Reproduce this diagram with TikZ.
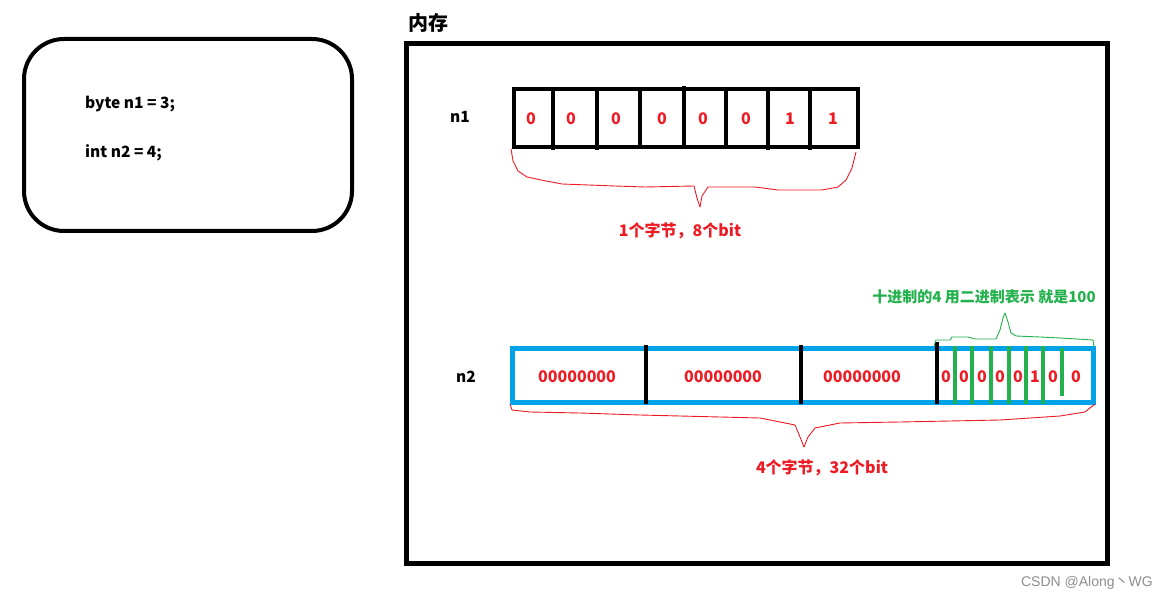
\documentclass[tikz,border=0pt]{standalone}
\usepackage{fontspec}
\setmainfont{Noto Sans CJK SC}
\newfontfamily\marksans{Liberation Sans}
\usepackage{tikz}
\usetikzlibrary{positioning}

\definecolor{bitred}{RGB}{237,28,36}
\definecolor{paintblue}{RGB}{0,162,232}
\definecolor{paintgreen}{RGB}{34,177,76}

\begin{document}
\begin{tikzpicture}[
        x=1pt, y=-1pt,
        codebox/.style={draw=black, line width=4pt, rounded corners=40pt},
        memframe/.style={draw=black, line width=5pt},
        bytebox/.style={draw=black, line width=4pt},
        wordbox/.style={draw=paintblue, line width=5pt},
        divider/.style={line width=4pt},
        greendiv/.style={draw=paintgreen, line width=3.5pt},
        code/.style={font=\fontsize{15.5}{18}\selectfont\bfseries, anchor=west, inner sep=0pt},
        varname/.style={font=\fontsize{15.5}{18}\selectfont\bfseries, inner sep=0pt},
        bit/.style={font=\fontsize{16}{18}\selectfont\bfseries, text=bitred, inner sep=0pt},
        note/.style={font=\fontsize{16}{18}\selectfont\bfseries, inner sep=0pt},
        handbrace/.style={draw=bitred, line width=0.9pt, line join=round},
    ]
        \useasboundingbox (0,0) rectangle (1167,601);

        % Source code
        \draw[codebox] (24,39) rectangle (352,231);
        \node[code] (decl1) at (85,104) {byte n1 = 3;};
        \node[code] (decl2) at (85,153) {int n2 = 4;};

        % Memory
        \node[font=\fontsize{20}{24}\selectfont\bfseries, inner sep=0pt] (memtitle) at (428,23) {内存};
        \draw[memframe] (406,44) rectangle (1107,563);

        % n1 : one byte
        \node[varname] (n1) at (460,117) {n1};
        \draw[bytebox] (514,89) rectangle (858,147);
        \foreach \x/\y/\z in {553/89/150, 597/89/150, 640/89/147, 684/86/147, 726/89/147, 768/89/150, 810/89/150}
            \draw[divider] (\x,\y) -- (\x,\z);
        \foreach \x/\b [count=\i] in {531/0, 571/0, 616/0, 662/0, 703/0, 746/0, 790/1, 833/1}
            \node[bit] (b\i) at (\x,119) {\b};
        \draw[handbrace] (511,149) -- (513,161) -- (518,171) -- (527,177) -- (541,180) -- (562,184)
            -- (615,186) -- (645,187) -- (694,186) -- (697,198) -- (700,207) -- (702,196) -- (708,187)
            -- (755,187) -- (778,190) -- (822,190) -- (838,187) -- (846,180) -- (852,168) -- (856,152);
        \node[note, text=bitred] (size1) at (680,231) {1个字节，8个bit};

        % n2 : four bytes
        \node[varname] (n2) at (466,377) {n2};
        \draw[wordbox] (512,349) rectangle (1093,402);
        \foreach \x/\y in {646/345, 801/345, 937/342}
            \draw[divider] (\x,\y) -- (\x,404);
        \foreach \x in {955, 972, 991, 1009, 1026, 1043}
            \draw[greendiv] (\x,346) -- (\x,404);
        \draw[greendiv] (1062,348) -- (1062,396);
        \node[bit] (byte1) at (577,377) {00000000};
        \node[bit] (byte2) at (723,377) {00000000};
        \node[bit] (byte3) at (862,377) {00000000};
        \foreach \x/\b [count=\i] in {946/0, 964/0, 982/0, 1000/0, 1018/0, 1035/1, 1053/0, 1076/0}
            \node[bit] (c\i) at (\x,377) {\b};
        \draw[handbrace] (510,404) -- (512,410) -- (530,412) -- (580,413) -- (640,415) -- (760,418)
            -- (795,425) -- (800,437) -- (804,447) -- (808,437) -- (815,428) -- (840,423) -- (900,422)
            -- (1000,420) -- (1060,416) -- (1085,412) -- (1095,404);
        \node[note, text=bitred] (size2) at (822,468) {4个字节，32个bit};

        % binary of 4
        \draw[handbrace, draw=paintgreen] (934,346) -- (936,340) -- (950,340) -- (952,337) -- (968,337)
            -- (975,339) -- (996,339) -- (1000,330) -- (1003,318) -- (1005,313) -- (1008,322) -- (1011,333)
            -- (1016,336) -- (1040,337) -- (1060,338) -- (1093,340) -- (1094,347);
        \node[note, text=paintgreen, font=\fontsize{15}{18}\selectfont\bfseries] (binary) at (984,297) {十进制的4 用二进制表示 就是100};

        % watermark
        \node[font=\marksans\fontsize{14}{16}\selectfont, text=black!45, anchor=east, inner sep=0pt] (mark) at (1153,583) {CSDN @Along{\rmfamily 丶}WG};
    \end{tikzpicture}
\end{document}
